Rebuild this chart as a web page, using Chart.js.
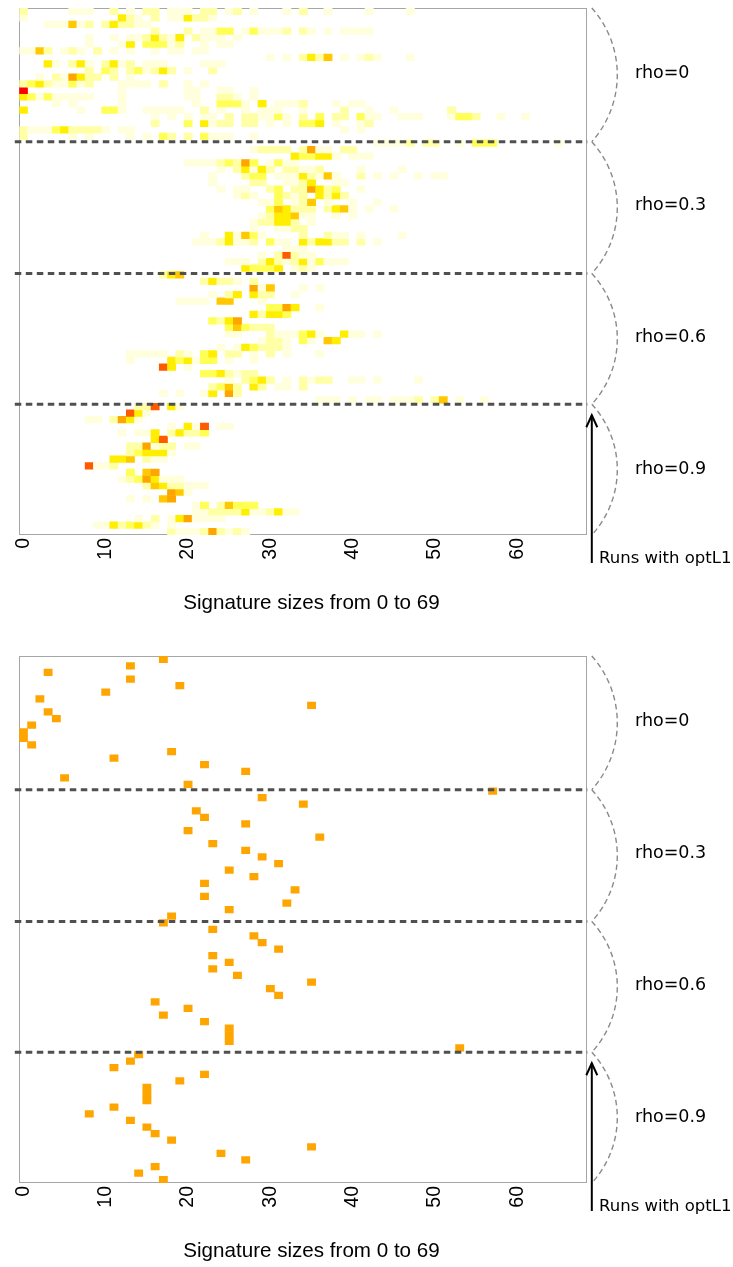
<!DOCTYPE html>
<html><head><meta charset="utf-8">
<script src="https://cdn.jsdelivr.net/npm/chart.js@4.4.1/dist/chart.umd.min.js"></script>
<style>
html,body{margin:0;padding:0;background:#fff;width:733px;height:1267px;overflow:hidden;}
.panel{position:absolute;left:0;width:733px;height:620px;}
</style></head><body>
<div class="panel" style="top:0"><canvas id="c1" width="733" height="620"></canvas></div>
<div class="panel" style="top:648px"><canvas id="c2" width="733" height="620"></canvas></div>
<script>
// ---------- DATA ----------
const sizeLabels = ['0','1','2','3','4','5','6','7','8','9','10','11','12','13','14','15','16','17','18','19',
 '20','21','22','23','24','25','26','27','28','29','30','31','32','33','34','35','36','37','38','39',
 '40','41','42','43','44','45','46','47','48','49','50','51','52','53','54','55','56','57','58','59',
 '60','61','62','63','64','65','66','67','68'];
const tickLabels = ['0','10','20','30','40','50','60'];
const groupLabels = ['rho=0','rho=0.3','rho=0.6','rho=0.9'];
const axisTitle = 'Signature sizes from 0 to 69';
const arrowLabel = 'Runs with optL1';

// heat levels per run (row): "column:level" (level 1 = palest ... 8 = red)
const heat_rho0 = [
 "0:2 6:1 7:1 8:1 11:2 13:1 15:2 16:2 18:1 19:1 20:1 22:2 23:2 25:1 26:2 28:1 32:1 34:2 37:1 42:1 47:1",
 "0:1 12:4 13:2 14:1 16:2 18:1 19:1 20:4 21:2 22:2 23:1",
 "3:1 4:1 5:1 6:5 7:1 8:2 10:2 11:4 12:2 13:2 14:1 15:1",
 "16:2 20:2 22:1 23:1 24:3 25:3 27:1 28:3 29:1 30:1 31:1 32:2 34:2 35:1 37:1 39:1 40:1 41:1 42:1",
 "8:1 11:1 13:1 14:1 15:2 16:4 17:2 18:1 19:4 21:2 22:1 23:1 24:1 26:1",
 "8:1 12:1 13:4 15:3 16:3 17:3 18:1 19:2 22:1 24:1 25:1",
 "0:1 1:1 2:5 3:2 5:1 6:2 7:1 9:2 11:1 13:1 16:1 18:1 19:1 21:1 22:1",
 "30:1 32:1 34:2 35:4 36:2 37:5 39:1 41:1 42:2 43:1 47:1",
 "3:4 4:1 6:2 7:4 8:1 10:2 11:4 12:1 13:2 15:1 16:1 17:1 22:1 23:1 24:1",
 "8:2 10:3 11:2 13:2 14:3 15:1 16:2 17:4 18:2 20:1 23:2",
 "2:1 4:2 5:1 6:6 7:4 8:2 9:2 11:2 13:1",
 "0:2 1:3 2:4 3:2 4:1 5:1 6:3 7:1 8:2 12:1 13:1 14:1 15:1 17:2 20:1 22:1",
 "0:8 12:1 20:1 21:1 24:1 25:1 28:1",
 "0:4 1:3 2:1 3:3 4:1 5:1 6:1 7:1 8:1 12:1 20:1 21:1 24:2 25:2 26:1 28:1",
 "4:1 6:1 12:1 21:1 24:3 25:3 26:3 27:1 29:4 31:1 32:1 33:1 34:2 38:1 40:1 41:1",
 "0:4 7:1 10:3 11:3 12:1 15:1 16:1 17:1 18:1 19:1 22:2 24:1 27:1 29:1 30:1 31:1 34:1 39:2 42:1 45:1 52:2",
 "16:1 18:1 20:1 22:1 23:1 25:2 27:2 28:2 29:1 30:1 31:3 32:1 34:2 36:3 38:2 39:2 41:3 42:1 43:1 46:1 47:1 48:1 52:1 53:3 54:3 55:2 58:1 61:1",
 "16:2 20:3 22:4 23:1 24:2 25:2 27:2 28:2 30:1 32:1 34:3 35:3 36:4 38:1 41:1 42:2",
 "0:2 1:1 2:1 3:1 4:3 5:4 6:2 7:2 8:2 9:2 10:1 12:1 13:1 39:1 41:1",
 "0:2 6:1 8:1 13:1 15:1 17:3 18:2 20:2 22:3 23:1 24:1 25:1 28:1"
];
const heat_rho03 = [
 "43:1 44:1 45:1 46:1 47:2 49:2 50:2 53:1 55:3 56:3 57:3 65:1",
 "28:1 29:2 30:2 31:2 32:2 34:2 35:6 36:1 37:1 39:2 40:2",
 "33:4 34:3 35:3 36:4 37:4 38:1 40:1 41:1 42:1",
 "20:1 21:1 22:1 23:1 24:2 25:3 26:2 27:6 28:3 30:1 31:3 32:1 33:1",
 "24:1 26:2 27:4 28:1 29:4 30:2 32:2 33:2 34:1 35:1 36:2 41:1 46:1",
 "23:1 27:2 28:3 29:3 31:1 32:1 33:1 34:4 35:2 36:1 37:5 38:1 41:2 43:1 45:1 48:1 50:1 51:1",
 "23:1 28:2 29:2 32:1 33:1 34:2 35:4 38:1 39:1",
 "24:1 26:1 27:1 30:2 31:3 33:2 34:2 35:6 36:4 37:2 38:3 41:1",
 "26:1 27:2 28:1 31:3 32:2 33:1 34:2 36:4 37:2 38:4 39:2",
 "29:1 30:1 31:3 33:1 34:2 35:5 37:1 40:1 43:1",
 "30:3 31:5 32:4 33:2 34:2 35:2 37:2 38:4 39:5 40:1 42:1 45:1",
 "29:1 30:2 31:4 32:4 33:5 34:1 35:1 38:1 40:1",
 "28:1 29:2 30:2 31:4 32:4 33:2 35:1",
 "28:1 31:1 32:1 33:2 34:2",
 "22:1 25:4 26:1 27:5 28:3 29:1 34:2 37:2 38:1 39:1 41:1 46:1",
 "21:1 22:1 23:1 24:2 25:4 26:1 27:1 28:2 30:3 31:1 32:1 34:4 35:2 36:4 37:4 38:2 39:2 41:2 43:1",
 "32:1 33:1 34:1",
 "29:1 31:2 32:7 33:2 34:1 35:1",
 "25:1 26:1 27:1 29:2 30:4 31:2 32:1 33:2 34:4 35:1 36:3 37:1 38:1 39:1",
 "27:4 28:3 29:3 30:3 31:4 33:1 34:2 35:1"
];
const heat_rho06 = [
 "17:2 18:4 19:5",
 "22:2 23:4 24:2 25:2 26:1 28:2",
 "28:6 29:1 30:5 34:1 36:1",
 "23:1 25:2 26:4 28:4 29:2 30:2 33:1",
 "19:1 20:1 21:1 22:1 24:5 25:5 29:1",
 "30:3 31:3 32:6 33:4 36:1",
 "28:4 29:2 30:4 31:4 32:3",
 "23:3 24:2 25:4 26:6",
 "25:3 26:5 27:3 28:2 29:2 30:2",
 "25:1 26:1 30:2 31:1 32:1 33:1 34:3 35:4 36:1 39:4 40:1 41:1 43:1",
 "29:1 30:2 31:2 32:1 34:3 35:1 37:5 38:4",
 "24:1 26:1 27:4 28:3 29:2 30:2 31:2 32:1",
 "13:1 14:1 15:1 16:1 17:1 19:2 20:1 22:3 23:4 25:2 26:2 28:1 30:2 32:1 36:1",
 "13:1 18:4 19:3 20:4 21:1 22:3 23:3 25:1 28:1",
 "17:7 18:4 20:1",
 "22:3 23:3 24:4 25:2 26:1 27:2 28:2",
 "25:1 27:2 28:3 29:4 30:2 32:1 34:2 35:1 36:2 37:2 40:1 41:1 43:1 48:1",
 "23:2 24:3 25:5 26:2 28:4 29:2 31:1 32:1 34:2",
 "17:1 19:1 22:1 23:4 25:6 26:2",
 "36:1 37:1 38:1 40:1 42:1 43:1 45:1 46:1 47:1 48:2 50:2 51:5 53:1 56:1"
];
const heat_rho09 = [
 "14:2 15:2 16:7 18:4 19:1",
 "13:7 14:4 15:1",
 "8:1 9:1 11:2 12:6 13:4 14:1",
 "18:1 20:4 21:1 22:7 24:1 25:1",
 "12:1 14:1 15:1 16:4 18:2 19:4 20:2 21:2 22:3",
 "16:4 17:7",
 "13:2 14:2 15:6 16:1 17:2 18:2 20:1 21:1",
 "13:2 14:3 15:4 16:4 17:4 18:1",
 "11:4 12:4 13:5 15:2 16:1 17:1",
 "8:7 9:1 10:1 11:2",
 "13:3 15:5 16:6",
 "12:1 13:2 14:3 15:6 16:4 17:1 18:1 19:1",
 "15:2 16:5 17:4 18:2 19:2 20:1 21:1 22:1",
 "18:6 19:5 20:1",
 "13:1 15:1 17:5 18:6",
 "21:1 22:3 24:2 25:5 26:3 27:3 28:3",
 "21:1 22:1 23:2 24:2 25:2 26:2 27:4 28:1 29:1 30:2 31:4 32:1 33:1",
 "14:1 16:2 18:1 19:4 20:6 21:1 22:1 23:1 24:1",
 "9:1 10:1 11:4 12:2 13:3 14:4 15:2 16:1 18:1",
 "18:2 19:1 20:1 21:1 22:2 23:6 24:2 25:1 26:2 27:1"
];

// selected signature size per run (bottom panel)
const opt_rho0  = [17,13,3,13,19,10,2,35,3,4,1,0,0,1,18,11,22,27,5,20];
const opt_rho03 = [57,29,34,21,22,27,20,36,23,27,29,31,25,28,22,33,22,32,25,18];
const opt_rho06 = [17,23,28,29,31,23,25,23,26,35,30,31,16,20,17,22,25,25,25,53];
const opt_rho09 = [14,13,11,22,19,15,15,15,11,8,13,15,16,18,35,24,27,16,14,17];

// ---------- STYLE ----------
const palette = ['rgba(0,0,0,0)','#ffffdd','#ffffa6','#ffff55','#ffee00','#ffc800','#ffa500','#ff5a00','#ff0000'];
const optColor = '#ffa500';
const NCOL = sizeLabels.length;
const NROW = 80;

function emptyRow() { const d = []; for (let c = 0; c < NCOL; c++) d.push(null); return d; }

function heatDatasets(rows) {
  return rows.map((s, r) => {
    const data = emptyRow(), bg = emptyRow().map(() => 'rgba(0,0,0,0)');
    s.split(/\s+/).filter(Boolean).forEach(t => {
      const p = t.split(':').map(Number);
      data[p[0]] = [r, r + 1]; bg[p[0]] = palette[p[1]];
    });
    return {data, backgroundColor: bg, borderWidth: 0, barPercentage: 1, categoryPercentage: 1, grouped: false};
  });
}
function optDatasets(cols) {
  return cols.map((c, r) => {
    const data = emptyRow(); data[c] = [r, r + 1];
    return {data, backgroundColor: optColor, borderWidth: 0, barPercentage: 1, categoryPercentage: 1, grouped: false};
  });
}

const sepRows = [20.3, 40.3, 60.15];
const arcRows = [0, 20.3, 40.3, 60.15, 80];

const overlay = {
  id: 'overlay',
  beforeDatasetsDraw(chart) {
    const {ctx, chartArea: a} = chart;
    ctx.save();
    ctx.strokeStyle = '#a6a6a6'; ctx.lineWidth = 1;
    ctx.strokeRect(Math.round(a.left) + 0.5, Math.round(a.top) + 0.5, Math.round(a.right - a.left) - 1, Math.round(a.bottom - a.top) - 1);
    ctx.restore();
  },
  afterDatasetsDraw(chart) {
    const {ctx, chartArea: a} = chart;
    const y = chart.scales.y;
    ctx.save();
    // separators
    ctx.strokeStyle = '#505050'; ctx.lineWidth = 3; ctx.setLineDash([6.5, 4.5]);
    sepRows.forEach(v => {
      const py = y.getPixelForValue(v);
      ctx.beginPath(); ctx.moveTo(a.left - 4.5, py); ctx.lineTo(a.right, py); ctx.stroke();
    });
    // arcs
    const x0 = a.right + 4.5, sag = 25.5;
    ctx.strokeStyle = '#8a8a8a'; ctx.lineWidth = 1.4; ctx.setLineDash([5.5, 3.5]);
    for (let g = 0; g < 4; g++) {
      const yA = y.getPixelForValue(arcRows[g]), yB = y.getPixelForValue(arcRows[g + 1]);
      const h = (yB - yA) / 2, R = (sag * sag + h * h) / (2 * sag);
      const cx = x0 + sag - R, cy = (yA + yB) / 2, ang = Math.asin(h / R);
      ctx.beginPath(); ctx.arc(cx, cy, R, -ang, ang); ctx.stroke();
    }
    ctx.setLineDash([]);
    // group labels
    ctx.fillStyle = '#000'; ctx.font = '17.5px "DejaVu Sans"';
    ctx.textAlign = 'left'; ctx.textBaseline = 'middle';
    groupLabels.forEach((t, g) => ctx.fillText(t, 635, y.getPixelForValue(10 + 20 * g)));
    // arrow
    const top = y.getPixelForValue(sepRows[2]) + 11, bot = a.bottom + 28;
    ctx.strokeStyle = '#000'; ctx.lineWidth = 2;
    ctx.beginPath(); ctx.moveTo(x0, bot); ctx.lineTo(x0, top); ctx.stroke();
    ctx.beginPath(); ctx.moveTo(x0 - 5.5, top + 12); ctx.lineTo(x0, top); ctx.lineTo(x0 + 5.5, top + 12); ctx.stroke();
    ctx.font = '16.5px "DejaVu Sans"';
    ctx.fillText(arrowLabel, 599, a.bottom + 23.5);
    // x axis title
    ctx.font = '20.6px "Liberation Sans", Arial, sans-serif';
    ctx.textAlign = 'center';
    ctx.fillText(axisTitle, 311.5, a.bottom + 68);
    ctx.restore();
  }
};

function makeChart(id, datasets) {
  return new Chart(document.getElementById(id), {
    type: 'bar',
    data: {labels: sizeLabels, datasets},
    options: {
      responsive: false, maintainAspectRatio: false, animation: false, devicePixelRatio: 1,
      layout: {padding: {left: 19.3, right: 145.7, top: 8, bottom: 0}},
      plugins: {legend: {display: false}, tooltip: {enabled: false}},
      scales: {
        x: {
          type: 'category', offset: true,
          grid: {display: false, drawTicks: false}, border: {display: false},
          ticks: {
            autoSkip: false, minRotation: 90, maxRotation: 90, padding: 3, color: '#000',
            font: {family: '"Liberation Sans", Arial, sans-serif', size: 19.5},
            callback: function(v, i) { return tickLabels.includes(sizeLabels[i]) ? sizeLabels[i] : ''; }
          },
          title: {display: false},
          afterFit(scale) { scale.height = 85; }
        },
        y: {type: 'linear', min: 0, max: NROW, reverse: true, display: false}
      }
    },
    plugins: [overlay]
  });
}

makeChart('c1', heatDatasets([].concat(heat_rho0, heat_rho03, heat_rho06, heat_rho09)));
makeChart('c2', optDatasets([].concat(opt_rho0, opt_rho03, opt_rho06, opt_rho09)));
</script>
</body></html>
